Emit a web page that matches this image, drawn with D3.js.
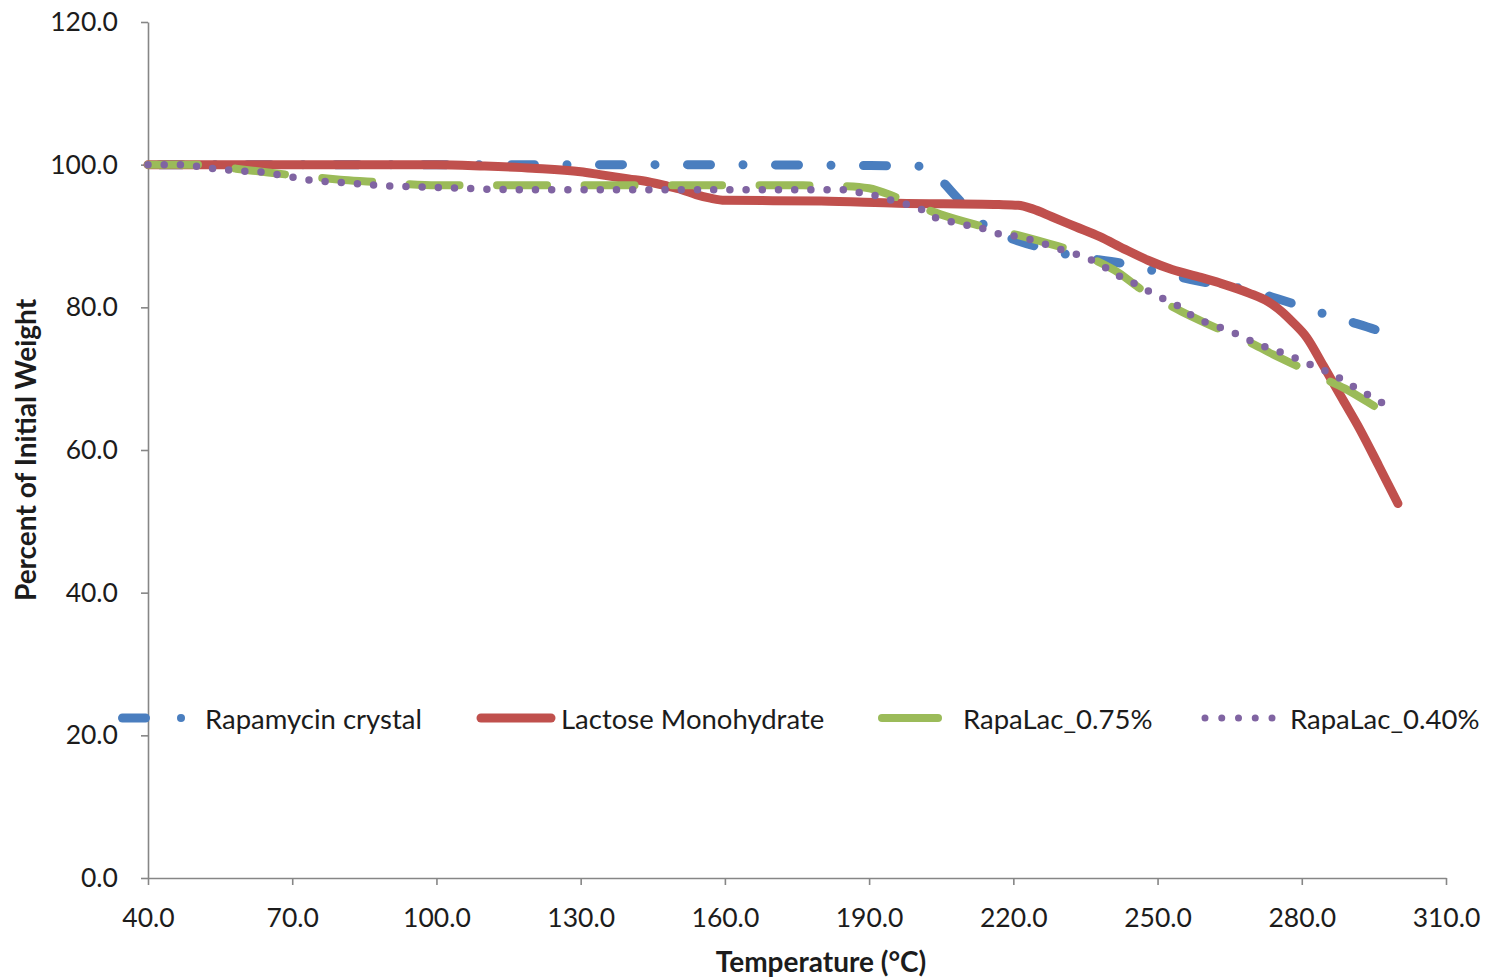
<!DOCTYPE html>
<html>
<head>
<meta charset="utf-8">
<script src="https://cdn.jsdelivr.net/npm/d3@7"></script>
<style>
  html, body { margin: 0; padding: 0; background: #fff; }
  svg { display: block; }
</style>
</head>
<body>
<svg id="chart" width="1494" height="980"></svg>
<script>
// Thermogravimetric curves: temperature (°C) vs percent of initial weight
const xTicks = [40, 70, 100, 130, 160, 190, 220, 250, 280, 310];
const yTicks = [0, 20, 40, 60, 80, 100, 120];

const seriesNames = ["Rapamycin crystal", "Lactose Monohydrate", "RapaLac_0.75%", "RapaLac_0.40%"];

const rapamycin = [
  [40, 100], [100, 100], [150, 100], [200, 99.8], [202, 99.6], [205, 97.8], [208, 95.6],
  [212, 92.7], [215, 91.0], [219, 89.8], [226, 88.3], [232, 87.3], [243, 86.1],
  [250, 85.0], [259, 83.6], [269, 82.4], [275, 81.2], [281, 79.9], [285, 79.0],
  [290.5, 77.9], [296, 76.7], [300.5, 75.5]
];

const lactose = [
  [40, 100], [100, 100], [110, 99.8], [120, 99.5], [130, 99.0], [134, 98.6], [140, 98.0],
  [144, 97.6], [148, 97.0], [151, 96.5], [154, 95.8], [157, 95.3], [160, 95.0],
  [180, 94.9], [196, 94.6], [217, 94.4], [221, 94.3], [224, 93.8], [228, 92.7],
  [233, 91.3], [238, 89.9], [243, 88.2], [248, 86.6], [253, 85.3], [259, 84.2],
  [263, 83.4], [269, 82.0], [273, 80.8], [276, 79.3], [278, 78.0], [281, 75.8],
  [284.5, 71.8], [288.5, 67.1], [292, 63.0], [296, 57.8], [300, 52.5]
];

const rapaLac075 = [
  [40, 100], [50, 100], [55, 99.7], [60, 99.3], [65, 98.9], [69, 98.6], [75, 98.2],
  [80, 97.9], [87, 97.6], [93, 97.3], [100, 97.1], [140, 97.1], [175, 97.1], [185, 97.0],
  [190, 96.7], [195, 95.6], [200, 94.2], [205, 93.0], [211, 91.8], [217, 90.8],
  [227, 89.0], [232, 88.0], [237, 86.6], [242, 84.8], [246, 82.8], [250, 81.2],
  [255, 79.4], [260, 77.8], [265, 76.3], [270, 74.8], [274, 73.4], [279, 71.8],
  [284, 70.2], [289, 68.6], [294, 66.6], [298, 64.9]
];

const rapaLac040 = [
  [40, 100], [47, 100], [50, 99.8], [53, 99.5], [56, 99.3], [60, 99.1], [63, 99.0],
  [66, 98.7], [69, 98.4], [72, 98.0], [76, 97.7], [82, 97.4], [88, 97.1], [95, 96.9],
  [105, 96.7], [115, 96.5], [185, 96.5], [187, 96.2], [190, 95.9], [193, 95.3],
  [196, 94.8], [198, 94.4], [201, 93.7], [203, 92.8], [206, 92.2], [209, 91.7],
  [212, 91.3], [215, 90.8], [217, 90.3], [221, 89.9], [224, 89.4], [229, 88.3],
  [237, 86.4], [242, 84.4], [245, 83.4], [250, 81.6], [255, 79.9], [257, 78.9],
  [263, 77.2], [268, 75.8], [270, 75.1], [276, 73.6], [281, 72.2], [287, 70.4],
  [291, 68.8], [296, 66.9], [298.5, 65.9]
];

const svg = d3.select("#chart");
const plotLeft = 148, plotRight = 1446, plotTop = 22, plotBottom = 878;

const x = d3.scaleLinear().domain([40, 310]).range([plotLeft, plotRight]);
const y = d3.scaleLinear().domain([0, 120]).range([plotBottom, plotTop]);

const axisColor = "#868686";
const textColor = "#1c1c1c";
const fontFamily = "Lato, 'Open Sans', sans-serif";

// Y axis
const gy = svg.append("g")
  .attr("transform", `translate(${plotLeft},0)`)
  .call(d3.axisLeft(y).tickValues(yTicks).tickFormat(d3.format(".1f")).tickSize(7).tickSizeOuter(0).tickPadding(23));
// X axis
const gx = svg.append("g")
  .attr("transform", `translate(0,${plotBottom})`)
  .call(d3.axisBottom(x).tickValues(xTicks).tickFormat(d3.format(".1f")).tickSize(7).tickSizeOuter(0).tickPadding(23));

[gx, gy].forEach(g => {
  g.select(".domain").attr("stroke", axisColor).attr("stroke-width", 1.6);
  g.selectAll(".tick line").attr("stroke", axisColor).attr("stroke-width", 1.6);
  g.selectAll(".tick text")
    .attr("fill", textColor)
    .style("font-family", fontFamily)
    .style("font-size", "26.5px");
});

// Axis titles
svg.append("text")
  .attr("x", 821).attr("y", 972)
  .attr("text-anchor", "middle")
  .attr("fill", textColor)
  .style("font-family", fontFamily)
  .style("font-weight", "bold")
  .style("font-size", "28px")
  .text("Temperature (°C)");

svg.append("text")
  .attr("transform", "translate(36,450) rotate(-90)")
  .attr("text-anchor", "middle")
  .attr("fill", textColor)
  .style("font-family", fontFamily)
  .style("font-weight", "bold")
  .style("font-size", "28px")
  .text("Percent of Initial Weight");

// Series styles
const styles = [
  { data: rapamycin, color: "#4a7ebf", width: 9, dash: "23,32.5,0,32.5", offset: 76.5 },
  { data: lactose, color: "#c0504d", width: 9, dash: null, offset: 0 },
  { data: rapaLac075, color: "#9bbb59", width: 8, dash: "50,37.5", offset: 0 },
  { data: rapaLac040, color: "#8064a2", width: 7.5, dash: "0,16.2", offset: 0 }
];

const line = d3.line()
  .x(d => x(d[0]))
  .y(d => y(d[1]))
  .curve(d3.curveMonotoneX);

svg.append("g").selectAll("path")
  .data(styles)
  .join("path")
  .attr("d", d => line(d.data))
  .attr("fill", "none")
  .attr("stroke", d => d.color)
  .attr("stroke-width", d => d.width)
  .attr("stroke-linecap", "round")
  .attr("stroke-linejoin", "round")
  .attr("stroke-dasharray", d => d.dash)
  .attr("stroke-dashoffset", d => d.offset);

// Legend
const legendY = 718;
const legend = svg.append("g");

// Rapamycin crystal sample: a dash followed by a dot
legend.append("line")
  .attr("x1", 122.5).attr("x2", 145.5).attr("y1", legendY).attr("y2", legendY)
  .attr("stroke", styles[0].color).attr("stroke-width", 9).attr("stroke-linecap", "round");
legend.append("circle")
  .attr("cx", 181).attr("cy", legendY).attr("r", 4)
  .attr("fill", styles[0].color);

// Lactose sample
legend.append("line")
  .attr("x1", 481).attr("x2", 551).attr("y1", legendY).attr("y2", legendY)
  .attr("stroke", styles[1].color).attr("stroke-width", 9).attr("stroke-linecap", "round");

// RapaLac_0.75% sample
legend.append("line")
  .attr("x1", 882).attr("x2", 938).attr("y1", legendY).attr("y2", legendY)
  .attr("stroke", styles[2].color).attr("stroke-width", 8).attr("stroke-linecap", "round");

// RapaLac_0.40% sample
legend.append("line")
  .attr("x1", 1205).attr("x2", 1272.5).attr("y1", legendY).attr("y2", legendY)
  .attr("stroke", styles[3].color).attr("stroke-width", 7).attr("stroke-linecap", "round")
  .attr("stroke-dasharray", "0,16.75");

const labelX = [205, 561, 963, 1290];
legend.selectAll("text.lbl")
  .data(seriesNames)
  .join("text")
  .attr("class", "lbl")
  .attr("x", (d, i) => labelX[i])
  .attr("y", legendY)
  .attr("dominant-baseline", "central")
  .attr("fill", textColor)
  .style("font-family", fontFamily)
  .style("font-size", "27.5px")
  .text(d => d);
</script>
</body>
</html>
